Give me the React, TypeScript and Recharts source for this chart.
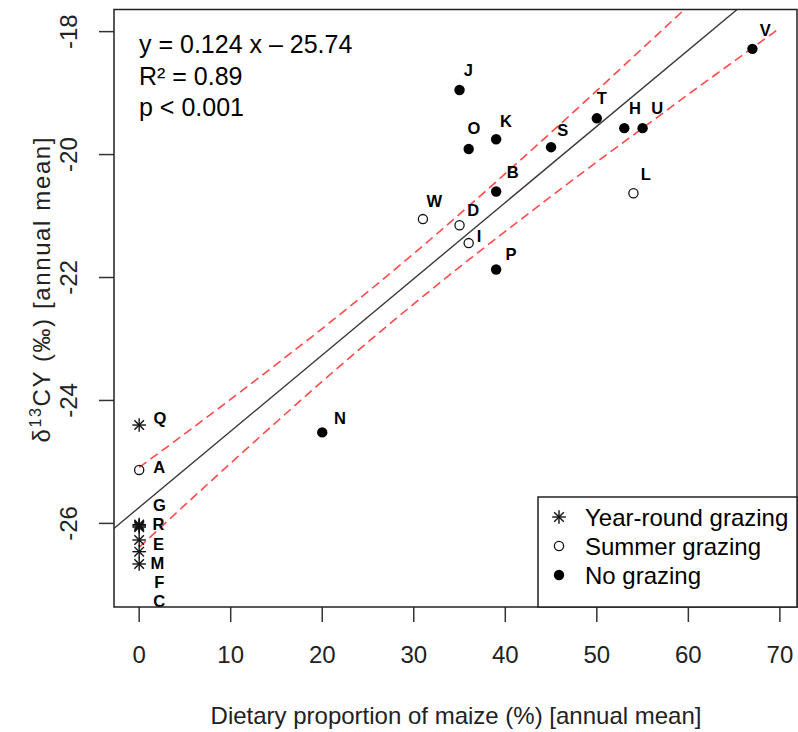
import React from 'react';
import { ComposedChart, Scatter, Line, XAxis, YAxis } from 'recharts';

const FONT = "'Liberation Sans', Arial, Helvetica, sans-serif";

// ---- data ----
// Year-round grazing (asterisks)
const yearNames = ['Q', 'G', 'R', 'C', 'E', 'F', 'M'];
const yearX = [0, 0, 0, 0, 0, 0, 0];
const yearY = [-24.4, -26.02, -26.06, -26.04, -26.27, -26.46, -26.66];

// Summer grazing (open circles)
const summerNames = ['A', 'W', 'D', 'I', 'L'];
const summerX = [0, 31, 35, 36, 54];
const summerY = [-25.13, -21.05, -21.15, -21.44, -20.63];

// No grazing (filled circles)
const noneNames = ['J', 'O', 'K', 'S', 'T', 'H', 'U', 'B', 'P', 'N', 'V'];
const noneX = [35, 36, 39, 45, 50, 53, 55, 39, 39, 20, 67];
const noneY = [-18.95, -19.91, -19.75, -19.88, -19.41, -19.57, -19.57, -20.6, -21.87, -24.52, -18.28];

// Point labels (placed in data units, as text() would)
const labelNames = ['J', 'O', 'K', 'S', 'T', 'H', 'U', 'B', 'W', 'D', 'I', 'L', 'P', 'N', 'V', 'Q', 'A', 'G', 'R', 'E', 'M', 'F', 'C'];
const labelX = [35.96, 36.58, 40.07, 46.27, 50.53, 54.17, 56.6, 40.8, 32.24, 36.5, 37.12, 55.34, 40.62, 21.94, 68.4, 2.27, 2.2, 2.2, 2.1, 2.1, 2.0, 2.2, 2.2];
const labelY = [-18.62, -19.57, -19.45, -19.6, -19.08, -19.25, -19.25, -20.29, -20.75, -20.91, -21.32, -20.32, -21.62, -24.29, -17.97, -24.29, -25.08, -25.7, -26.01, -26.33, -26.65, -26.96, -27.27];

// Regression line y = 0.124 x - 25.74
const slope = 0.124;
const intercept = -25.74;
const regX = [-3, 72];

// 95% confidence band
const bandX = [0, 5, 10, 15, 20, 25, 30, 35, 40, 45, 50, 55, 60, 65, 70];
const bandUpper = [-25.09, -24.54, -23.98, -23.41, -22.83, -22.23, -21.61, -20.97, -20.31, -19.64, -18.96, -18.27, -17.58, -16.88, -16.18];
const bandLower = [-26.39, -25.7, -25.02, -24.35, -23.69, -23.05, -22.43, -21.83, -21.25, -20.68, -20.12, -19.57, -19.02, -18.48, -17.94];

const xTicks = [0, 10, 20, 30, 40, 50, 60, 70];
const yTicks = [-26, -24, -22, -20, -18];
const xDomain = [-2.75, 71.87];
const yDomain = [-27.36, -17.64];

const legendItems = ['Year-round grazing', 'Summer grazing', 'No grazing'];

// ---- derived tables ----
const toPts = (names: string[], xs: number[], ys: number[]) =>
  names.map((n, i) => ({ name: n, x: xs[i], y: ys[i] }));
const yearData = toPts(yearNames, yearX, yearY);
const summerData = toPts(summerNames, summerX, summerY);
const noneData = toPts(noneNames, noneX, noneY);
const labelData = toPts(labelNames, labelX, labelY);
const regData = regX.map((x) => ({ x, y: intercept + slope * x }));
const bandData = bandX.map((x, i) => ({ x, up: bandUpper[i], lo: bandLower[i] }));

// ---- shapes ----
const Asterisk = ({ cx, cy }: any) => {
  const a = 6.8;
  const d = 4.8;
  return (
    <g stroke="#111" strokeWidth={1.4}>
      <line x1={cx - a} y1={cy} x2={cx + a} y2={cy} />
      <line x1={cx} y1={cy - a} x2={cx} y2={cy + a} />
      <line x1={cx - d} y1={cy - d} x2={cx + d} y2={cy + d} />
      <line x1={cx - d} y1={cy + d} x2={cx + d} y2={cy - d} />
    </g>
  );
};
const OpenCircle = ({ cx, cy }: any) => (
  <circle cx={cx} cy={cy} r={4.6} fill="none" stroke="#111" strokeWidth={1.3} />
);
const FilledCircle = ({ cx, cy }: any) => <circle cx={cx} cy={cy} r={5.2} fill="#000" />;
const LabelShape = ({ cx, cy, payload }: any) => (
  <text x={cx} y={cy} dy="0.36em" textAnchor="middle" fontFamily={FONT} fontWeight="bold" fontSize={16.5} fill="#000">
    {payload.name}
  </text>
);

const XTick = ({ x, y, payload }: any) => (
  <text x={x} y={y + 38.5} textAnchor="middle" fontFamily={FONT} fontSize={24} fill="#222">
    {payload.value}
  </text>
);
const YTick = ({ x, y, payload }: any) => (
  <text
    x={x - 20}
    y={y}
    transform={`rotate(-90 ${x - 20} ${y})`}
    textAnchor="middle"
    fontFamily={FONT}
    fontSize={24}
    fill="#222"
  >
    {payload.value}
  </text>
);

export default function App() {
  const W = 798;
  const H = 732;
  const plot = { left: 114, top: 9.5, right: 797, bottom: 607 };
  const leg = { x: 538, y: 497 };
  const legY = [517, 546, 575];
  return (
    <div style={{ position: 'absolute', left: 0, top: 0, width: W, height: H, background: '#fff' }}>
      <ComposedChart
        width={W}
        height={H}
        margin={{ top: plot.top, right: W - plot.right, bottom: 0, left: 0 }}
      >
        <XAxis
          type="number"
          dataKey="x"
          domain={xDomain}
          ticks={xTicks}
          allowDataOverflow
          height={H - plot.bottom}
          axisLine={false}
          tickSize={15}
          tickLine={{ stroke: '#333', strokeWidth: 1.5 }}
          tick={(p: any) => <XTick {...p} />}
          interval={0}
        />
        <YAxis
          type="number"
          domain={yDomain}
          ticks={yTicks}
          allowDataOverflow
          width={plot.left}
          axisLine={false}
          tickSize={15}
          tickLine={{ stroke: '#333', strokeWidth: 1.5 }}
          tick={(p: any) => <YTick {...p} />}
          interval={0}
        />
        <Line
          data={regData}
          dataKey="y"
          type="linear"
          stroke="#3a3a3a"
          strokeWidth={1.4}
          dot={false}
          activeDot={false}
          isAnimationActive={false}
        />
        <Line
          data={bandData}
          dataKey="up"
          type="monotone"
          stroke="#ff4a4a"
          strokeWidth={1.6}
          strokeDasharray="9 5"
          dot={false}
          activeDot={false}
          isAnimationActive={false}
        />
        <Line
          data={bandData}
          dataKey="lo"
          type="monotone"
          stroke="#ff4a4a"
          strokeWidth={1.6}
          strokeDasharray="9 5"
          dot={false}
          activeDot={false}
          isAnimationActive={false}
        />
        <Scatter data={yearData} dataKey="y" shape={(p: any) => <Asterisk {...p} />} isAnimationActive={false} />
        <Scatter data={summerData} dataKey="y" shape={(p: any) => <OpenCircle {...p} />} isAnimationActive={false} />
        <Scatter data={noneData} dataKey="y" shape={(p: any) => <FilledCircle {...p} />} isAnimationActive={false} />
        <Scatter data={labelData} dataKey="y" shape={(p: any) => <LabelShape {...p} />} isAnimationActive={false} />
      </ComposedChart>
      <svg
        width={W}
        height={H}
        style={{ position: 'absolute', left: 0, top: 0, pointerEvents: 'none' }}
      >
        <rect
          x={plot.left}
          y={plot.top}
          width={plot.right - plot.left}
          height={plot.bottom - plot.top}
          fill="none"
          stroke="#222"
          strokeWidth={1.5}
        />
        {/* equation */}
        <g fontFamily={FONT} fontSize={25} fill="#000">
          <text x={139} y={53.3}>y = 0.124 x – 25.74</text>
          <text x={139} y={85}>R² = 0.89</text>
          <text x={139} y={115.5}>p &lt; 0.001</text>
        </g>
        {/* legend */}
        <rect
          x={leg.x}
          y={leg.y}
          width={plot.right - leg.x}
          height={plot.bottom - leg.y}
          fill="#fff"
          stroke="#222"
          strokeWidth={1.5}
        />
        <Asterisk cx={559} cy={legY[0]} />
        <OpenCircle cx={559} cy={legY[1]} />
        <FilledCircle cx={559} cy={legY[2]} />
        {legendItems.map((t, i) => (
          <text key={t} x={585} y={legY[i] + 8.6} fontFamily={FONT} fontSize={24} fill="#000">
            {t}
          </text>
        ))}
        {/* axis titles */}
        <text x={456} y={724} textAnchor="middle" fontFamily={FONT} fontSize={24} fill="#222">
          Dietary proportion of maize (%) [annual mean]
        </text>
        <text
          x={50}
          y={290}
          transform="rotate(-90 50 290)"
          textAnchor="middle"
          fontFamily={FONT}
          fontSize={24}
          fill="#222"
          textLength={305}
          lengthAdjust="spacing"
        >
          δ<tspan dy={-9} fontSize={16}>13</tspan>
          <tspan dy={9}>CY (‰) [annual mean]</tspan>
        </text>
      </svg>
    </div>
  );
}
